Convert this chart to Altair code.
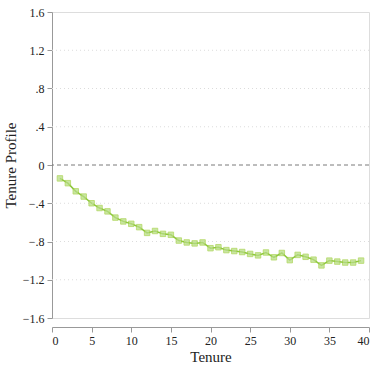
import altair as alt
import pandas as pd

tenure = list(range(1, 40))
profile = [-0.14, -0.19, -0.275, -0.33, -0.40, -0.45, -0.485, -0.55, -0.59, -0.615,
           -0.65, -0.71, -0.69, -0.72, -0.73, -0.79, -0.81, -0.82, -0.81, -0.87,
           -0.86, -0.89, -0.90, -0.91, -0.93, -0.945, -0.915, -0.965, -0.92, -0.995,
           -0.94, -0.96, -0.99, -1.05, -1.00, -1.01, -1.02, -1.02, -1.00]

y_ticks = [-1.6, -1.2, -0.8, -0.4, 0, 0.4, 0.8, 1.2, 1.6]
grid_vals = [-1.2, -0.8, -0.4, 0.4, 0.8, 1.2]
x_ticks = [0, 5, 10, 15, 20, 25, 30, 35, 40]

df = pd.DataFrame({"Tenure": tenure, "Profile": profile})
grid_df = pd.DataFrame({"g": grid_vals})
zero_df = pd.DataFrame({"z": [0]})

FONT = "'Liberation Serif', 'Times New Roman', Times, serif"
label_expr = "datum.value == 0 ? '0' : replace(format(datum.value, '.1f'), '0.', '.')"

xscale = alt.Scale(domain=[0, 40], nice=False, zero=False)
yscale = alt.Scale(domain=[-1.6, 1.6], nice=False)

xaxis = alt.Axis(values=x_ticks, title="Tenure", offset=9, grid=False,
                 labelFont=FONT, titleFont=FONT, labelFontSize=12, titleFontSize=15,
                 titleFontWeight="normal", labelColor="#222", titleColor="#222",
                 domainColor="#999", tickColor="#999", tickSize=5, labelPadding=3,
                 titlePadding=3)
yaxis = alt.Axis(values=y_ticks, title="Tenure Profile", grid=False,
                 labelExpr=label_expr,
                 labelFont=FONT, titleFont=FONT, labelFontSize=12, titleFontSize=15,
                 titleFontWeight="normal", labelColor="#222", titleColor="#222",
                 domainColor="#999", tickColor="#999", tickSize=5, labelPadding=3,
                 titlePadding=4)

base = alt.Chart(df).encode(
    x=alt.X("Tenure:Q", scale=xscale, axis=xaxis),
    y=alt.Y("Profile:Q", scale=yscale, axis=yaxis),
)

grid = alt.Chart(grid_df).mark_rule(color="#dcdcdc", strokeDash=[1, 3], strokeWidth=1).encode(
    y=alt.Y("g:Q", scale=yscale, axis=yaxis)
)
zero = alt.Chart(zero_df).mark_rule(color="#7a7a7a", strokeDash=[4, 3], strokeWidth=1).encode(
    y=alt.Y("z:Q", scale=yscale, axis=yaxis)
)

line = base.mark_line(color="#8cc63f", strokeWidth=1.5)
pts = base.mark_point(shape="square", size=30, filled=True, color="#b8dd85", opacity=0.75,
                      stroke="#9acd32", strokeWidth=0.8)

chart = alt.layer(line, grid, zero, pts).properties(
    width=317, height=306,
    autosize=alt.AutoSizeParams(type="none"),
    padding={"left": 52, "top": 12, "right": 5, "bottom": 47},
    background="white",
).configure_view(stroke=None).configure(font=FONT)

chart.save("out.html", embed_options={"renderer": "svg", "actions": False})
